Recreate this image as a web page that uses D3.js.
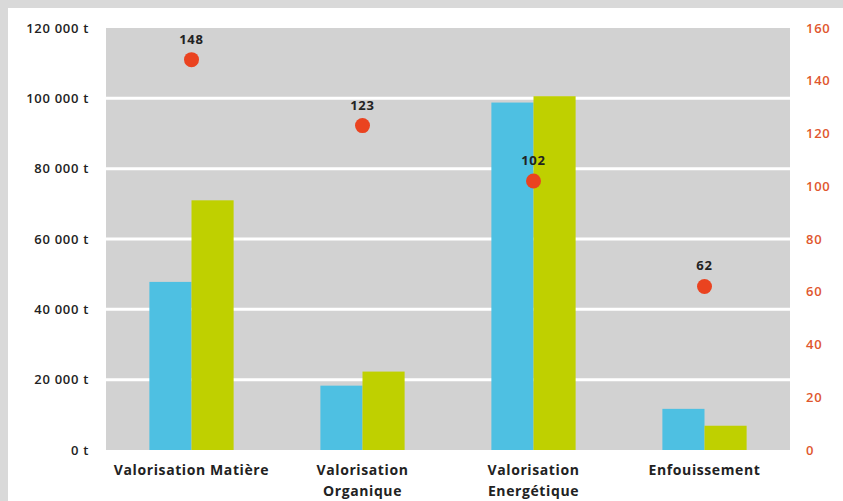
<!DOCTYPE html>
<html>
<head>
<meta charset="utf-8">
<script src="https://cdn.jsdelivr.net/npm/d3@7"></script>
<style>
  body { margin: 0; background: #fff; }
  svg { display: block; font-family: "Open Sans", "Noto Sans", sans-serif; }
</style>
</head>
<body>
<svg id="chart" width="843" height="501"></svg>
<script>
const categories = ["Valorisation Matière", "Valorisation Organique", "Valorisation Energétique", "Enfouissement"];
const catLines = [["Valorisation Matière"], ["Valorisation", "Organique"], ["Valorisation", "Energétique"], ["Enfouissement"]];
const seriesA = [47800, 18300, 98800, 11700];
const seriesB = [71000, 22300, 100600, 6900];
const dotValues = [148, 123, 102, 62];
const leftTicks = [0, 20000, 40000, 60000, 80000, 100000, 120000];
const rightTicks = [0, 20, 40, 60, 80, 100, 120, 140, 160];

const svg = d3.select("#chart");
const width = 843, height = 501;

// outer frame
svg.append("rect").attr("width", width).attr("height", height).attr("fill", "#d9d9d9");
svg.append("rect").attr("x", 8).attr("y", 8).attr("width", width - 8).attr("height", height - 8).attr("fill", "#fff");

const mLeft = 106, mRight = 790, mTop = 28, mBottom = 450;

const x = d3.scaleBand().domain(categories).range([mLeft, mRight]);
const xs = d3.scaleBand().domain(["a", "b"]).range([0, x.bandwidth()]).paddingInner(0).paddingOuter(1.03);
const y = d3.scaleLinear().domain([0, 120000]).range([mBottom, mTop]);
const y2 = d3.scaleLinear().domain([0, 160]).range([mBottom, mTop]);

svg.append("rect")
  .attr("x", mLeft).attr("y", mTop)
  .attr("width", mRight - mLeft).attr("height", mBottom - mTop)
  .attr("fill", "#d2d2d2");

svg.append("g")
  .selectAll("line")
  .data(leftTicks.filter(d => d > 0 && d < 120000))
  .join("line")
  .attr("x1", mLeft).attr("x2", mRight)
  .attr("y1", d => y(d)).attr("y2", d => y(d))
  .attr("stroke", "#fff")
  .attr("stroke-width", 3);

const bars = svg.append("g");
bars.selectAll("rect.a")
  .data(seriesA)
  .join("rect")
  .attr("class", "a")
  .attr("x", (d, i) => x(categories[i]) + xs("a"))
  .attr("y", d => y(d))
  .attr("width", xs.bandwidth())
  .attr("height", d => y(0) - y(d))
  .attr("fill", "#4ec0e2");
bars.selectAll("rect.b")
  .data(seriesB)
  .join("rect")
  .attr("class", "b")
  .attr("x", (d, i) => x(categories[i]) + xs("b"))
  .attr("y", d => y(d))
  .attr("width", xs.bandwidth())
  .attr("height", d => y(0) - y(d))
  .attr("fill", "#bfd000");

// dots
const cx = i => x(categories[i]) + x.bandwidth() / 2;
svg.append("g")
  .selectAll("circle")
  .data(dotValues)
  .join("circle")
  .attr("cx", (d, i) => cx(i))
  .attr("cy", d => y2(d))
  .attr("r", 7.5)
  .attr("fill", "#ea4320");

svg.append("g")
  .selectAll("text")
  .data(dotValues)
  .join("text")
  .attr("x", (d, i) => cx(i))
  .attr("y", d => y2(d) - 16)
  .attr("text-anchor", "middle")
  .attr("font-size", 13)
  .attr("letter-spacing", 0.8)
  .attr("font-weight", "bold")
  .attr("fill", "#222")
  .text(d => d);

// left axis
const fmt = d => (d === 0 ? "0" : d3.format(",")(d).replace(",", " ")) + " t";
const yAxis = d3.axisLeft(y).tickValues(leftTicks).tickSize(0).tickPadding(0).tickFormat(fmt);
svg.append("g")
  .attr("transform", `translate(${mLeft - 17},0)`)
  .call(yAxis)
  .call(g => g.select(".domain").remove())
  .call(g => g.selectAll("text")
    .attr("font-size", 13)
    .attr("letter-spacing", 0.7)
    .attr("font-weight", 600)
    .attr("fill", "#222")
    .attr("font-family", "\"Open Sans\", sans-serif"));

// right axis
const y2Axis = d3.axisRight(y2).tickValues(rightTicks).tickSize(0).tickPadding(0);
svg.append("g")
  .attr("transform", `translate(${mRight + 16},0)`)
  .call(y2Axis)
  .call(g => g.select(".domain").remove())
  .call(g => g.selectAll("text")
    .attr("font-size", 13)
    .attr("letter-spacing", 0.7)
    .attr("font-weight", 600)
    .attr("fill", "#e0572e")
    .attr("font-family", "\"Open Sans\", sans-serif"));

// category labels
svg.append("g")
  .selectAll("text")
  .data(catLines)
  .join("text")
  .attr("x", (d, i) => cx(i))
  .attr("y", 475)
  .attr("text-anchor", "middle")
  .attr("font-size", 14)
  .attr("letter-spacing", 0.6)
  .attr("font-weight", "bold")
  .attr("fill", "#222")
  .selectAll("tspan")
  .data(d => d)
  .join("tspan")
  .attr("x", function () { return this.parentNode.getAttribute("x"); })
  .attr("dy", (d, j) => j === 0 ? 0 : 21)
  .text(d => d);
</script>
</body>
</html>
